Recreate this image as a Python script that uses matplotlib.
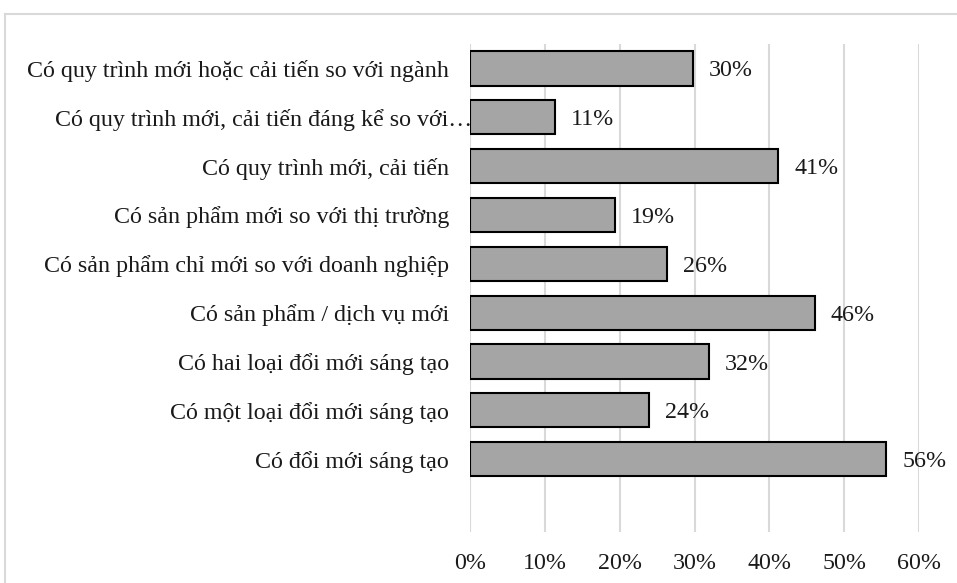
import matplotlib
matplotlib.use("Agg")
import matplotlib.pyplot as plt
import matplotlib.transforms as mtransforms
from matplotlib.lines import Line2D

categories = [
    "Có quy trình mới hoặc cải tiến so với ngành",
    "Có quy trình mới, cải tiến đáng kể so với…",
    "Có quy trình mới, cải tiến",
    "Có sản phẩm mới so với thị trường",
    "Có sản phẩm chỉ mới so với doanh nghiệp",
    "Có sản phẩm / dịch vụ mới",
    "Có hai loại đổi mới sáng tạo",
    "Có một loại đổi mới sáng tạo",
    "Có đổi mới sáng tạo",
]
values = [0.298, 0.114, 0.412, 0.194, 0.263, 0.461, 0.319, 0.239, 0.556]
value_labels = ["30%", "11%", "41%", "19%", "26%", "46%", "32%", "24%", "56%"]
xticks = [0, 0.1, 0.2, 0.3, 0.4, 0.5, 0.6]
xtick_labels = ["0%", "10%", "20%", "30%", "40%", "50%", "60%"]

W, H = 957, 583
fig = plt.figure(figsize=(W / 100, H / 100), dpi=100)
plt.rcParams['font.family'] = ['Liberation Serif', 'DejaVu Serif']
txt = '#1a1a1a'
FS = 17.3

# outer chart border (left and top visible)
fig.add_artist(Line2D([5 / W, 5 / W], [0, 1 - 14 / H], transform=fig.transFigure, color='#d9d9d9', lw=1.5))
fig.add_artist(Line2D([5 / W, 1], [1 - 14 / H, 1 - 14 / H], transform=fig.transFigure, color='#d9d9d9', lw=1.5))

ax = fig.add_axes([470 / W, 1 - 532 / H, (919 - 470) / W, (532 - 44) / H])
y = list(range(len(categories)))
ax.barh(y, values, height=0.7, color='#a5a5a5', edgecolor='#000000', linewidth=1.5, zorder=3)
ax.set_xlim(0, 0.6)
ax.set_ylim(9.49, -0.5)
ax.set_xticks(xticks)
ax.set_xticklabels(xtick_labels, fontsize=FS, color=txt)
ax.set_yticks(y)
ax.set_yticklabels(categories, fontsize=FS, color=txt)
ax.tick_params(axis='both', length=0)
ax.tick_params(axis='y', pad=15)
ax.tick_params(axis='x', pad=15)
ax.grid(axis='x', color='#d9d9d9', linewidth=1.5, zorder=0)
ax.set_axisbelow(True)
for s in ax.spines.values():
    s.set_visible(False)

# truncated label extends further right
lab = ax.get_yticklabels()[1]
lab.set_transform(lab.get_transform() + mtransforms.ScaledTranslation(23 / 100, 0, fig.dpi_scale_trans))

for yi, v, l in zip(y, values, value_labels):
    ax.annotate(l, (v, yi), xytext=(16, 0), textcoords='offset pixels',
                va='center_baseline', ha='left', fontsize=FS, color=txt)

fig.savefig("out.png", dpi=100)
